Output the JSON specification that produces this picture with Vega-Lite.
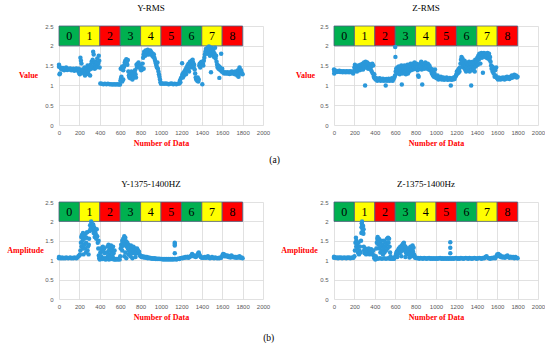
{
  "$schema": "https://vega.github.io/schema/vega-lite/v6.json",
  "background": "white",
  "autosize": {"type": "pad"},
  "padding": {"left": 6, "top": 4, "right": 0, "bottom": 0},
  "config": {
    "view": {"stroke": null},
    "axis": {"grid": true, "gridColor": "#D9D9D9", "gridWidth": 0.8, "domain": false, "ticks": false, "labelOverlap": false, "tickCount": 30, "labelFont": "Liberation Sans", "labelFontSize": 6, "labelColor": "#595959", "titleFont": "Liberation Serif", "titleFontSize": 8, "titleFontWeight": "bold", "titleColor": "#FF0000"},
    "axisX": {"labelPadding": 4, "titleY": 18, "titleBaseline": "middle", "labelFlush": false},
    "axisY": {"labelPadding": 6, "titleAngle": 0, "titleAlign": "center", "titleBaseline": "middle"},
    "title": {"font": "Liberation Serif", "fontSize": 9, "fontWeight": "normal", "color": "black", "anchor": "middle", "frame": "group", "dx": -10, "baseline": "middle", "offset": 10}
  },
  "datasets": {
    "bands": [
      {"n":"0","x0":0,"x1":200,"xm":100},{"n":"1","x0":200,"x1":400,"xm":300},{"n":"2","x0":400,"x1":600,"xm":500},
      {"n":"3","x0":600,"x1":800,"xm":700},{"n":"4","x0":800,"x1":1000,"xm":900},{"n":"5","x0":1000,"x1":1200,"xm":1100},
      {"n":"6","x0":1200,"x1":1400,"xm":1300},{"n":"7","x0":1400,"x1":1600,"xm":1500},{"n":"8","x0":1600,"x1":1800,"xm":1700}
    ],
    "yrms": [
      {"x":0,"y":1.52},{"x":0,"y":1.47},{"x":5,"y":1.28},{"x":10,"y":1.3},{"x":15,"y":1.45},{"x":20,"y":1.42},{"x":30,"y":1.4},{"x":40,"y":1.44},{"x":50,"y":1.38},{"x":60,"y":1.41},{"x":70,"y":1.45},{"x":80,"y":1.39},{"x":90,"y":1.42},{"x":100,"y":1.4},{"x":110,"y":1.43},{"x":120,"y":1.38},{"x":130,"y":1.4},{"x":140,"y":1.42},{"x":150,"y":1.37},{"x":160,"y":1.4},{"x":170,"y":1.43},{"x":180,"y":1.38},{"x":190,"y":1.35},{"x":195,"y":1.42},{"x":200,"y":1.3},{"x":205,"y":1.35},
      {"x":210,"y":1.7},{"x":215,"y":1.62},{"x":220,"y":1.55},{"x":205,"y":1.28},{"x":225,"y":1.33},{"x":230,"y":1.4},{"x":240,"y":1.36},{"x":245,"y":1.3},{"x":250,"y":1.45},{"x":255,"y":1.25},{"x":260,"y":1.38},{"x":270,"y":1.42},{"x":275,"y":1.32},{"x":280,"y":1.5},{"x":285,"y":1.35},{"x":290,"y":1.28},{"x":295,"y":1.45},{"x":300,"y":1.4},{"x":305,"y":1.25},{"x":310,"y":1.52},{"x":315,"y":1.42},{"x":320,"y":1.6},{"x":325,"y":1.48},{"x":330,"y":1.65},{"x":335,"y":1.85},{"x":340,"y":1.78},{"x":345,"y":1.55},{"x":350,"y":1.42},{"x":355,"y":1.6},{"x":360,"y":1.5},{"x":365,"y":1.45},{"x":370,"y":1.58},{"x":375,"y":1.68},{"x":380,"y":1.48},{"x":385,"y":1.55},{"x":390,"y":1.75},{"x":395,"y":1.62},{"x":398,"y":1.45},
      {"x":405,"y":1.05},{"x":420,"y":1.04},{"x":435,"y":1.03},{"x":450,"y":1.04},{"x":465,"y":1.03},{"x":480,"y":1.04},{"x":495,"y":1.03},{"x":510,"y":1.03},{"x":525,"y":1.02},{"x":540,"y":1.03},{"x":555,"y":1.02},{"x":570,"y":1.03},{"x":585,"y":1.02},{"x":598,"y":1.02},
      {"x":602,"y":1.12},{"x":608,"y":1.18},{"x":612,"y":1.22},{"x":620,"y":1.1},{"x":630,"y":1.15},{"x":605,"y":1.42},{"x":615,"y":1.45},{"x":620,"y":1.48},{"x":625,"y":1.4},{"x":630,"y":1.38},{"x":635,"y":1.46},{"x":640,"y":1.5},{"x":645,"y":1.58},{"x":650,"y":1.62},{"x":655,"y":1.55},{"x":660,"y":1.66},{"x":665,"y":1.6},{"x":670,"y":1.52},{"x":675,"y":1.64},{"x":680,"y":1.35},{"x":685,"y":1.25},{"x":690,"y":1.2},{"x":695,"y":1.3},{"x":700,"y":1.18},{"x":705,"y":1.28},{"x":710,"y":1.35},{"x":715,"y":1.22},{"x":720,"y":1.15},{"x":725,"y":1.3},{"x":730,"y":1.25},{"x":735,"y":1.2},{"x":740,"y":1.32},{"x":745,"y":1.38},{"x":750,"y":1.28},{"x":755,"y":1.2},{"x":760,"y":1.52},{"x":765,"y":1.45},{"x":770,"y":1.55},{"x":775,"y":1.48},{"x":780,"y":1.58},{"x":785,"y":1.52},{"x":790,"y":1.45},{"x":795,"y":1.5},
      {"x":800,"y":1.42},{"x":805,"y":1.38},{"x":810,"y":1.45},{"x":815,"y":1.4},{"x":820,"y":1.55},{"x":825,"y":1.7},{"x":830,"y":1.42},{"x":830,"y":1.78},{"x":835,"y":1.85},{"x":840,"y":1.8},{"x":845,"y":1.75},{"x":850,"y":1.88},{"x":855,"y":1.82},{"x":860,"y":1.78},{"x":865,"y":1.85},{"x":870,"y":1.9},{"x":875,"y":1.83},{"x":880,"y":1.78},{"x":885,"y":1.86},{"x":890,"y":1.8},{"x":895,"y":1.88},{"x":900,"y":1.85},{"x":905,"y":1.78},{"x":910,"y":1.82},{"x":915,"y":1.75},{"x":920,"y":1.8},{"x":925,"y":1.72},{"x":930,"y":1.78},{"x":935,"y":1.7},{"x":940,"y":1.65},{"x":945,"y":1.6},{"x":950,"y":1.55},{"x":955,"y":1.5},{"x":960,"y":1.45},{"x":965,"y":1.58},{"x":970,"y":1.42},{"x":975,"y":1.35},{"x":980,"y":1.28},{"x":985,"y":1.22},{"x":990,"y":1.15},{"x":995,"y":1.08},
      {"x":1000,"y":1.04},{"x":1015,"y":1.05},{"x":1030,"y":1.04},{"x":1045,"y":1.05},{"x":1060,"y":1.04},{"x":1075,"y":1.03},{"x":1090,"y":1.04},{"x":1105,"y":1.05},{"x":1120,"y":1.03},{"x":1135,"y":1.04},{"x":1150,"y":1.03},{"x":1165,"y":1.04},{"x":1180,"y":1.05},{"x":1185,"y":1.12},{"x":1190,"y":1.08},{"x":1195,"y":1.18},{"x":1207,"y":1.56},
      {"x":1205,"y":1.22},{"x":1210,"y":1.28},{"x":1215,"y":1.2},{"x":1220,"y":1.32},{"x":1225,"y":1.25},{"x":1230,"y":1.35},{"x":1235,"y":1.3},{"x":1240,"y":1.4},{"x":1245,"y":1.28},{"x":1250,"y":1.45},{"x":1255,"y":1.38},{"x":1260,"y":1.5},{"x":1265,"y":1.42},{"x":1270,"y":1.55},{"x":1275,"y":1.35},{"x":1280,"y":1.48},{"x":1285,"y":1.6},{"x":1290,"y":1.45},{"x":1295,"y":1.55},{"x":1300,"y":1.62},{"x":1305,"y":1.5},{"x":1310,"y":1.65},{"x":1315,"y":1.58},{"x":1320,"y":1.45},{"x":1325,"y":1.52},{"x":1330,"y":1.4},{"x":1335,"y":1.3},{"x":1340,"y":1.2},{"x":1345,"y":1.15},{"x":1350,"y":1.18},{"x":1355,"y":1.12},{"x":1360,"y":1.2},{"x":1365,"y":1.1},{"x":1370,"y":1.15},{"x":1375,"y":1.5},{"x":1380,"y":1.55},{"x":1385,"y":1.45},{"x":1390,"y":1.58},{"x":1395,"y":1.52},{"x":1400,"y":1.6},{"x":1405,"y":1.03},{"x":1410,"y":1.55},{"x":1415,"y":1.5},{"x":1420,"y":1.62},
      {"x":1425,"y":1.7},{"x":1430,"y":1.78},{"x":1435,"y":1.85},{"x":1440,"y":1.92},{"x":1445,"y":1.82},{"x":1450,"y":1.88},{"x":1455,"y":1.95},{"x":1460,"y":1.8},{"x":1465,"y":1.9},{"x":1470,"y":1.98},{"x":1475,"y":1.85},{"x":1480,"y":1.75},{"x":1485,"y":1.9},{"x":1490,"y":1.33},{"x":1492,"y":1.82},{"x":1495,"y":1.95},{"x":1500,"y":1.88},{"x":1505,"y":1.78},{"x":1510,"y":1.92},{"x":1515,"y":1.85},{"x":1520,"y":1.72},{"x":1525,"y":1.8},{"x":1530,"y":1.95},{"x":1535,"y":1.68},{"x":1540,"y":1.75},{"x":1545,"y":1.6},{"x":1550,"y":1.52},{"x":1555,"y":1.45},{"x":1560,"y":1.5},{"x":1565,"y":1.42},{"x":1570,"y":1.48},{"x":1572,"y":1.19},{"x":1575,"y":1.4},{"x":1580,"y":1.45},{"x":1585,"y":1.38},{"x":1590,"y":1.8},{"x":1595,"y":1.35},{"x":1600,"y":1.42},
      {"x":1605,"y":1.35},{"x":1612,"y":1.32},{"x":1620,"y":1.3},{"x":1628,"y":1.33},{"x":1635,"y":1.31},{"x":1642,"y":1.3},{"x":1650,"y":1.33},{"x":1658,"y":1.3},{"x":1665,"y":1.32},{"x":1672,"y":1.29},{"x":1680,"y":1.33},{"x":1688,"y":1.3},{"x":1695,"y":1.35},{"x":1702,"y":1.31},{"x":1710,"y":1.3},{"x":1718,"y":1.34},{"x":1725,"y":1.28},{"x":1732,"y":1.35},{"x":1740,"y":1.3},{"x":1748,"y":1.25},{"x":1755,"y":1.38},{"x":1760,"y":1.22},{"x":1765,"y":1.32},{"x":1770,"y":1.45},{"x":1775,"y":1.35},{"x":1780,"y":1.3},{"x":1785,"y":1.38},{"x":1790,"y":1.32},{"x":1795,"y":1.3},{"x":1800,"y":1.28}
    ],
    "zrms": [
      {"x":0,"y":1.4},{"x":2,"y":1.3},{"x":5,"y":1.36},{"x":12,"y":1.35},{"x":20,"y":1.37},{"x":28,"y":1.34},{"x":36,"y":1.36},{"x":44,"y":1.35},{"x":52,"y":1.37},{"x":60,"y":1.34},{"x":68,"y":1.36},{"x":76,"y":1.35},{"x":84,"y":1.33},{"x":92,"y":1.36},{"x":100,"y":1.34},{"x":108,"y":1.35},{"x":116,"y":1.33},{"x":124,"y":1.36},{"x":132,"y":1.34},{"x":140,"y":1.35},{"x":148,"y":1.33},{"x":156,"y":1.36},{"x":164,"y":1.34},{"x":172,"y":1.35},{"x":180,"y":1.33},{"x":188,"y":1.3},{"x":195,"y":1.36},
      {"x":200,"y":1.45},{"x":205,"y":1.52},{"x":210,"y":1.38},{"x":215,"y":1.42},{"x":220,"y":1.48},{"x":225,"y":1.35},{"x":230,"y":1.45},{"x":235,"y":1.4},{"x":240,"y":1.5},{"x":245,"y":1.42},{"x":250,"y":1.38},{"x":255,"y":1.46},{"x":260,"y":1.52},{"x":265,"y":1.4},{"x":270,"y":1.48},{"x":275,"y":1.44},{"x":280,"y":1.55},{"x":285,"y":1.4},{"x":290,"y":1.5},{"x":295,"y":1.58},{"x":300,"y":1.45},{"x":305,"y":1.0},{"x":310,"y":1.6},{"x":315,"y":1.52},{"x":320,"y":1.45},{"x":325,"y":1.58},{"x":330,"y":1.5},{"x":335,"y":1.42},{"x":340,"y":1.55},{"x":345,"y":1.48},{"x":350,"y":1.45},{"x":355,"y":1.52},{"x":360,"y":1.4},{"x":365,"y":1.48},{"x":370,"y":1.35},{"x":375,"y":1.55},{"x":380,"y":1.3},{"x":385,"y":1.5},{"x":390,"y":1.22},{"x":395,"y":1.28},{"x":398,"y":1.18},
      {"x":400,"y":1.2},{"x":408,"y":1.15},{"x":416,"y":1.18},{"x":424,"y":1.12},{"x":432,"y":1.16},{"x":440,"y":1.14},{"x":448,"y":1.18},{"x":456,"y":1.12},{"x":464,"y":1.15},{"x":472,"y":1.13},{"x":480,"y":1.17},{"x":488,"y":1.12},{"x":496,"y":1.15},{"x":504,"y":1.13},{"x":507,"y":1.0},{"x":512,"y":1.16},{"x":520,"y":1.12},{"x":528,"y":1.14},{"x":536,"y":1.17},{"x":544,"y":1.12},{"x":552,"y":1.15},{"x":560,"y":1.13},{"x":568,"y":1.18},{"x":576,"y":1.12},{"x":584,"y":1.16},{"x":592,"y":1.2},{"x":598,"y":1.25},
      {"x":600,"y":1.97},{"x":602,"y":1.72},
      {"x":605,"y":1.35},{"x":610,"y":1.42},{"x":615,"y":1.3},{"x":620,"y":1.45},{"x":625,"y":1.38},{"x":630,"y":1.32},{"x":635,"y":1.48},{"x":640,"y":1.4},{"x":645,"y":1.28},{"x":650,"y":1.45},{"x":655,"y":1.35},{"x":660,"y":1.5},{"x":665,"y":1.02},{"x":670,"y":1.4},{"x":675,"y":1.3},{"x":680,"y":1.45},{"x":685,"y":1.38},{"x":690,"y":1.5},{"x":695,"y":1.35},{"x":700,"y":1.42},{"x":705,"y":1.28},{"x":710,"y":1.48},{"x":715,"y":1.38},{"x":720,"y":1.52},{"x":725,"y":1.3},{"x":730,"y":1.45},{"x":735,"y":1.35},{"x":740,"y":1.5},{"x":745,"y":1.4},{"x":750,"y":1.55},{"x":755,"y":1.38},{"x":760,"y":1.48},{"x":765,"y":1.42},{"x":770,"y":1.55},{"x":775,"y":1.4},{"x":780,"y":1.5},{"x":785,"y":1.45},{"x":790,"y":1.58},{"x":795,"y":1.42},
      {"x":800,"y":1.5},{"x":805,"y":1.42},{"x":810,"y":1.55},{"x":815,"y":1.45},{"x":820,"y":1.38},{"x":825,"y":1.25},{"x":830,"y":1.22},{"x":835,"y":1.5},{"x":840,"y":1.42},{"x":845,"y":1.55},{"x":850,"y":1.48},{"x":855,"y":1.6},{"x":860,"y":1.4},{"x":865,"y":1.02},{"x":870,"y":1.5},{"x":875,"y":1.45},{"x":880,"y":1.55},{"x":885,"y":1.42},{"x":890,"y":1.52},{"x":895,"y":1.58},{"x":900,"y":1.45},{"x":905,"y":1.55},{"x":910,"y":1.5},{"x":915,"y":1.42},{"x":920,"y":1.55},{"x":925,"y":1.48},{"x":930,"y":1.4},{"x":935,"y":1.5},{"x":940,"y":1.45},{"x":945,"y":1.38},{"x":950,"y":1.42},{"x":955,"y":1.35},{"x":960,"y":1.3},{"x":965,"y":1.4},{"x":970,"y":1.25},{"x":975,"y":1.35},{"x":980,"y":1.22},{"x":985,"y":1.3},{"x":990,"y":1.4},{"x":995,"y":1.2},
      {"x":1000,"y":1.22},{"x":1008,"y":1.18},{"x":1016,"y":1.25},{"x":1024,"y":1.15},{"x":1032,"y":1.2},{"x":1040,"y":1.17},{"x":1048,"y":1.22},{"x":1056,"y":1.15},{"x":1064,"y":1.18},{"x":1072,"y":1.2},{"x":1080,"y":1.14},{"x":1088,"y":1.18},{"x":1096,"y":1.16},{"x":1104,"y":1.2},{"x":1112,"y":1.14},{"x":1120,"y":1.17},{"x":1128,"y":1.15},{"x":1136,"y":1.19},{"x":1145,"y":1.0},{"x":1150,"y":1.14},{"x":1158,"y":1.18},{"x":1166,"y":1.15},{"x":1174,"y":1.2},{"x":1182,"y":1.16},{"x":1190,"y":1.22},{"x":1198,"y":1.25},
      {"x":1200,"y":1.28},{"x":1205,"y":1.35},{"x":1210,"y":1.3},{"x":1215,"y":1.38},{"x":1220,"y":1.32},{"x":1225,"y":1.42},{"x":1230,"y":1.35},{"x":1235,"y":1.45},{"x":1240,"y":1.55},{"x":1245,"y":1.65},{"x":1250,"y":1.72},{"x":1255,"y":1.6},{"x":1260,"y":1.68},{"x":1265,"y":1.5},{"x":1270,"y":1.45},{"x":1275,"y":1.55},{"x":1280,"y":1.62},{"x":1285,"y":1.4},{"x":1290,"y":1.5},{"x":1295,"y":1.35},{"x":1300,"y":1.58},{"x":1305,"y":1.45},{"x":1310,"y":1.38},{"x":1315,"y":1.52},{"x":1320,"y":1.42},{"x":1325,"y":1.6},{"x":1330,"y":1.35},{"x":1335,"y":1.48},{"x":1340,"y":1.55},{"x":1345,"y":1.0},{"x":1350,"y":1.45},{"x":1355,"y":1.38},{"x":1360,"y":1.6},{"x":1365,"y":1.5},{"x":1370,"y":1.42},{"x":1375,"y":1.55},{"x":1380,"y":1.35},{"x":1385,"y":1.65},{"x":1390,"y":1.48},{"x":1395,"y":1.58},
      {"x":1400,"y":1.6},{"x":1405,"y":1.7},{"x":1410,"y":1.52},{"x":1415,"y":1.75},{"x":1420,"y":1.65},{"x":1425,"y":1.8},{"x":1430,"y":1.72},{"x":1435,"y":1.55},{"x":1440,"y":1.78},{"x":1445,"y":1.82},{"x":1450,"y":1.7},{"x":1455,"y":1.8},{"x":1460,"y":1.32},{"x":1465,"y":1.75},{"x":1470,"y":1.82},{"x":1475,"y":1.78},{"x":1480,"y":1.72},{"x":1485,"y":1.8},{"x":1490,"y":1.75},{"x":1495,"y":1.7},{"x":1500,"y":1.78},{"x":1505,"y":1.82},{"x":1510,"y":1.68},{"x":1515,"y":1.75},{"x":1520,"y":1.8},{"x":1525,"y":1.65},{"x":1530,"y":1.72},{"x":1535,"y":1.6},{"x":1540,"y":1.5},{"x":1545,"y":1.42},{"x":1550,"y":1.48},{"x":1555,"y":1.35},{"x":1560,"y":1.45},{"x":1565,"y":1.3},{"x":1570,"y":1.4},{"x":1575,"y":1.22},{"x":1580,"y":1.38},{"x":1585,"y":1.25},{"x":1590,"y":1.45},{"x":1595,"y":1.2},
      {"x":1600,"y":1.18},{"x":1608,"y":1.15},{"x":1616,"y":1.2},{"x":1624,"y":1.17},{"x":1632,"y":1.15},{"x":1640,"y":1.19},{"x":1648,"y":1.16},{"x":1656,"y":1.2},{"x":1664,"y":1.18},{"x":1672,"y":1.15},{"x":1680,"y":1.2},{"x":1688,"y":1.17},{"x":1696,"y":1.22},{"x":1704,"y":1.18},{"x":1712,"y":1.2},{"x":1720,"y":1.16},{"x":1728,"y":1.22},{"x":1736,"y":1.19},{"x":1744,"y":1.25},{"x":1752,"y":1.2},{"x":1760,"y":1.24},{"x":1768,"y":1.27},{"x":1776,"y":1.22},{"x":1784,"y":1.25},{"x":1792,"y":1.2},{"x":1800,"y":1.22}
    ],
    "y1375": [
      {"x":0,"y":1.05},{"x":0,"y":1.08},{"x":10,"y":1.06},{"x":20,"y":1.05},{"x":30,"y":1.07},{"x":40,"y":1.05},{"x":50,"y":1.06},{"x":60,"y":1.05},{"x":70,"y":1.07},{"x":80,"y":1.06},{"x":90,"y":1.05},{"x":100,"y":1.06},{"x":110,"y":1.07},{"x":120,"y":1.05},{"x":130,"y":1.06},{"x":140,"y":1.05},{"x":150,"y":1.07},{"x":160,"y":1.06},{"x":170,"y":1.05},{"x":180,"y":1.07},{"x":190,"y":1.1},{"x":200,"y":1.12},
      {"x":205,"y":1.15},{"x":210,"y":1.25},{"x":215,"y":1.45},{"x":218,"y":1.6},{"x":220,"y":1.35},{"x":225,"y":1.65},{"x":230,"y":1.5},{"x":235,"y":1.7},{"x":235,"y":1.3},{"x":240,"y":1.4},{"x":240,"y":1.15},{"x":245,"y":1.55},{"x":250,"y":1.62},{"x":250,"y":1.4},{"x":255,"y":1.3},{"x":260,"y":1.68},{"x":265,"y":1.45},{"x":265,"y":1.2},{"x":270,"y":1.58},{"x":275,"y":1.72},{"x":280,"y":1.25},{"x":285,"y":1.35},{"x":290,"y":1.15},{"x":292,"y":1.4},{"x":295,"y":1.55},{"x":300,"y":1.75},{"x":305,"y":1.9},{"x":310,"y":1.82},{"x":315,"y":2.0},{"x":320,"y":1.95},{"x":325,"y":1.88},{"x":330,"y":1.78},{"x":335,"y":1.92},{"x":340,"y":1.7},{"x":345,"y":1.85},{"x":350,"y":1.6},{"x":355,"y":1.75},{"x":360,"y":1.68},{"x":365,"y":1.55},{"x":370,"y":1.8},{"x":375,"y":1.62},{"x":380,"y":1.45},{"x":385,"y":1.3},{"x":388,"y":1.5},{"x":390,"y":1.12},{"x":395,"y":1.05},{"x":398,"y":1.08},
      {"x":400,"y":1.02},{"x":405,"y":1.2},{"x":410,"y":1.3},{"x":415,"y":1.1},{"x":420,"y":1.25},{"x":425,"y":1.03},{"x":430,"y":1.35},{"x":435,"y":1.22},{"x":440,"y":1.05},{"x":445,"y":1.3},{"x":450,"y":1.18},{"x":455,"y":1.02},{"x":460,"y":1.05},{"x":465,"y":1.03},{"x":470,"y":1.2},{"x":470,"y":1.03},{"x":475,"y":1.35},{"x":480,"y":1.1},{"x":485,"y":1.4},{"x":490,"y":1.25},{"x":490,"y":1.02},{"x":495,"y":1.15},{"x":500,"y":1.32},{"x":505,"y":1.05},{"x":510,"y":1.38},{"x":510,"y":1.03},{"x":515,"y":1.2},{"x":520,"y":1.28},{"x":525,"y":1.1},{"x":530,"y":1.35},{"x":530,"y":1.03},{"x":535,"y":1.18},{"x":540,"y":1.02},{"x":545,"y":1.25},{"x":550,"y":1.03},{"x":555,"y":1.02},{"x":565,"y":1.03},{"x":575,"y":1.02},{"x":585,"y":1.03},{"x":595,"y":1.02},
      {"x":600,"y":1.1},{"x":605,"y":1.3},{"x":610,"y":1.4},{"x":615,"y":1.35},{"x":620,"y":1.5},{"x":620,"y":1.25},{"x":625,"y":1.45},{"x":630,"y":1.55},{"x":635,"y":1.38},{"x":640,"y":1.62},{"x":640,"y":1.1},{"x":645,"y":1.5},{"x":650,"y":1.58},{"x":650,"y":1.2},{"x":655,"y":1.42},{"x":660,"y":1.48},{"x":660,"y":1.05},{"x":665,"y":1.35},{"x":670,"y":1.45},{"x":675,"y":1.3},{"x":680,"y":1.4},{"x":680,"y":1.15},{"x":685,"y":1.25},{"x":690,"y":1.35},{"x":695,"y":1.2},{"x":700,"y":1.3},{"x":700,"y":1.1},{"x":705,"y":1.38},{"x":710,"y":1.22},{"x":715,"y":1.3},{"x":720,"y":1.18},{"x":720,"y":1.05},{"x":725,"y":1.28},{"x":730,"y":1.35},{"x":735,"y":1.2},{"x":740,"y":1.25},{"x":745,"y":1.3},{"x":750,"y":1.18},{"x":750,"y":1.08},{"x":755,"y":1.28},{"x":760,"y":1.22},{"x":765,"y":1.3},{"x":770,"y":1.2},{"x":775,"y":1.25},{"x":780,"y":1.18},{"x":785,"y":1.22},{"x":790,"y":1.15},{"x":795,"y":1.12},
      {"x":800,"y":1.1},{"x":810,"y":1.08},{"x":820,"y":1.1},{"x":830,"y":1.07},{"x":840,"y":1.09},{"x":850,"y":1.06},{"x":860,"y":1.08},{"x":870,"y":1.05},{"x":880,"y":1.07},{"x":890,"y":1.05},{"x":900,"y":1.06},{"x":910,"y":1.04},{"x":920,"y":1.05},{"x":930,"y":1.04},{"x":940,"y":1.05},{"x":950,"y":1.03},{"x":960,"y":1.04},{"x":970,"y":1.03},{"x":980,"y":1.04},{"x":990,"y":1.03},{"x":1000,"y":1.03},
      {"x":1010,"y":1.03},{"x":1020,"y":1.02},{"x":1030,"y":1.03},{"x":1040,"y":1.02},{"x":1050,"y":1.03},{"x":1060,"y":1.02},{"x":1070,"y":1.03},{"x":1080,"y":1.02},{"x":1090,"y":1.03},{"x":1100,"y":1.02},{"x":1110,"y":1.03},{"x":1120,"y":1.02},{"x":1130,"y":1.03},{"x":1135,"y":1.45},{"x":1135,"y":1.42},{"x":1135,"y":1.38},{"x":1135,"y":1.18},{"x":1140,"y":1.03},{"x":1150,"y":1.02},{"x":1160,"y":1.03},{"x":1170,"y":1.04},{"x":1180,"y":1.03},{"x":1190,"y":1.05},{"x":1200,"y":1.06},
      {"x":1210,"y":1.05},{"x":1220,"y":1.07},{"x":1230,"y":1.06},{"x":1240,"y":1.08},{"x":1250,"y":1.07},{"x":1260,"y":1.09},{"x":1270,"y":1.06},{"x":1280,"y":1.08},{"x":1290,"y":1.1},{"x":1300,"y":1.13},{"x":1305,"y":1.16},{"x":1310,"y":1.12},{"x":1320,"y":1.1},{"x":1330,"y":1.12},{"x":1340,"y":1.08},{"x":1350,"y":1.1},{"x":1360,"y":1.14},{"x":1365,"y":1.18},{"x":1370,"y":1.2},{"x":1375,"y":1.15},{"x":1380,"y":1.12},{"x":1390,"y":1.08},{"x":1400,"y":1.06},
      {"x":1410,"y":1.07},{"x":1420,"y":1.06},{"x":1430,"y":1.08},{"x":1440,"y":1.06},{"x":1450,"y":1.07},{"x":1460,"y":1.1},{"x":1470,"y":1.07},{"x":1480,"y":1.05},{"x":1490,"y":1.06},{"x":1500,"y":1.08},{"x":1510,"y":1.06},{"x":1520,"y":1.05},{"x":1530,"y":1.07},{"x":1540,"y":1.06},{"x":1550,"y":1.05},{"x":1560,"y":1.06},{"x":1570,"y":1.05},{"x":1580,"y":1.07},{"x":1590,"y":1.06},
      {"x":1600,"y":1.1},{"x":1605,"y":1.14},{"x":1610,"y":1.16},{"x":1615,"y":1.12},{"x":1620,"y":1.15},{"x":1625,"y":1.1},{"x":1630,"y":1.13},{"x":1640,"y":1.1},{"x":1650,"y":1.12},{"x":1660,"y":1.08},{"x":1670,"y":1.1},{"x":1680,"y":1.07},{"x":1690,"y":1.12},{"x":1700,"y":1.08},{"x":1710,"y":1.09},{"x":1720,"y":1.07},{"x":1730,"y":1.08},{"x":1740,"y":1.06},{"x":1750,"y":1.08},{"x":1760,"y":1.07},{"x":1770,"y":1.1},{"x":1780,"y":1.06},{"x":1790,"y":1.07},{"x":1800,"y":1.05}
    ],
    "z1375": [
      {"x":0,"y":1.06},{"x":0,"y":1.09},{"x":10,"y":1.07},{"x":20,"y":1.06},{"x":30,"y":1.07},{"x":40,"y":1.05},{"x":50,"y":1.07},{"x":60,"y":1.06},{"x":70,"y":1.07},{"x":80,"y":1.05},{"x":90,"y":1.06},{"x":100,"y":1.07},{"x":110,"y":1.06},{"x":120,"y":1.05},{"x":130,"y":1.07},{"x":140,"y":1.06},{"x":150,"y":1.07},{"x":160,"y":1.05},{"x":170,"y":1.06},{"x":180,"y":1.07},{"x":190,"y":1.06},
      {"x":200,"y":1.1},{"x":205,"y":1.25},{"x":210,"y":1.45},{"x":215,"y":1.58},{"x":218,"y":1.35},{"x":220,"y":1.5},{"x":225,"y":1.4},{"x":230,"y":1.3},{"x":235,"y":1.2},{"x":240,"y":1.45},{"x":245,"y":1.15},{"x":250,"y":1.25},{"x":255,"y":1.35},{"x":260,"y":1.2},{"x":265,"y":1.5},{"x":268,"y":1.7},{"x":270,"y":1.85},{"x":272,"y":1.95},{"x":275,"y":2.0},{"x":278,"y":1.9},{"x":280,"y":1.78},{"x":283,"y":1.72},{"x":285,"y":1.88},{"x":288,"y":1.68},{"x":290,"y":1.8},{"x":292,"y":1.35},{"x":295,"y":1.25},{"x":300,"y":1.18},{"x":305,"y":1.3},{"x":310,"y":1.22},{"x":315,"y":1.15},{"x":320,"y":1.28},{"x":325,"y":1.2},{"x":330,"y":1.25},{"x":335,"y":1.18},{"x":340,"y":1.3},{"x":345,"y":1.22},{"x":350,"y":1.15},{"x":355,"y":1.25},{"x":360,"y":1.2},{"x":365,"y":1.28},{"x":370,"y":1.18},{"x":375,"y":1.22},{"x":380,"y":1.15},{"x":385,"y":1.25},{"x":390,"y":1.12},{"x":395,"y":1.05},{"x":400,"y":1.08},
      {"x":405,"y":1.02},{"x":410,"y":1.1},{"x":410,"y":1.05},{"x":415,"y":1.3},{"x":420,"y":1.45},{"x":425,"y":1.55},{"x":428,"y":1.6},{"x":430,"y":1.5},{"x":430,"y":1.04},{"x":435,"y":1.4},{"x":440,"y":1.55},{"x":445,"y":1.3},{"x":450,"y":1.45},{"x":450,"y":1.05},{"x":455,"y":1.2},{"x":460,"y":1.35},{"x":465,"y":1.5},{"x":470,"y":1.25},{"x":470,"y":1.04},{"x":475,"y":1.4},{"x":480,"y":1.15},{"x":485,"y":1.3},{"x":490,"y":1.5},{"x":490,"y":1.05},{"x":495,"y":1.2},{"x":500,"y":1.35},{"x":505,"y":1.45},{"x":510,"y":1.25},{"x":510,"y":1.04},{"x":515,"y":1.4},{"x":520,"y":1.55},{"x":525,"y":1.3},{"x":530,"y":1.58},{"x":530,"y":1.05},{"x":535,"y":1.45},{"x":540,"y":1.55},{"x":545,"y":1.35},{"x":550,"y":1.2},{"x":550,"y":1.04},{"x":555,"y":1.1},{"x":560,"y":1.05},{"x":570,"y":1.04},{"x":580,"y":1.05},{"x":590,"y":1.04},
      {"x":600,"y":1.08},{"x":605,"y":1.12},{"x":610,"y":1.18},{"x":615,"y":1.22},{"x":620,"y":1.15},{"x":620,"y":1.08},{"x":625,"y":1.25},{"x":630,"y":1.2},{"x":635,"y":1.3},{"x":640,"y":1.18},{"x":645,"y":1.28},{"x":650,"y":1.35},{"x":655,"y":1.22},{"x":660,"y":1.3},{"x":660,"y":1.1},{"x":665,"y":1.38},{"x":670,"y":1.25},{"x":675,"y":1.42},{"x":680,"y":1.32},{"x":685,"y":1.45},{"x":690,"y":1.38},{"x":695,"y":1.28},{"x":700,"y":1.35},{"x":700,"y":1.08},{"x":705,"y":1.2},{"x":710,"y":1.3},{"x":715,"y":1.15},{"x":720,"y":1.25},{"x":725,"y":1.18},{"x":730,"y":1.3},{"x":735,"y":1.22},{"x":740,"y":1.15},{"x":740,"y":1.07},{"x":745,"y":1.28},{"x":750,"y":1.35},{"x":755,"y":1.2},{"x":760,"y":1.3},{"x":760,"y":1.1},{"x":765,"y":1.25},{"x":770,"y":1.38},{"x":775,"y":1.22},{"x":780,"y":1.32},{"x":785,"y":1.15},{"x":790,"y":1.1},{"x":795,"y":1.06},
      {"x":800,"y":1.07},{"x":812,"y":1.05},{"x":824,"y":1.06},{"x":836,"y":1.04},{"x":848,"y":1.06},{"x":860,"y":1.05},{"x":872,"y":1.04},{"x":884,"y":1.06},{"x":896,"y":1.05},{"x":908,"y":1.04},{"x":920,"y":1.05},{"x":932,"y":1.06},{"x":944,"y":1.04},{"x":956,"y":1.05},{"x":968,"y":1.04},{"x":980,"y":1.05},{"x":992,"y":1.04},{"x":1004,"y":1.05},{"x":1016,"y":1.04},{"x":1028,"y":1.05},{"x":1040,"y":1.06},{"x":1052,"y":1.04},{"x":1064,"y":1.05},{"x":1076,"y":1.04},{"x":1088,"y":1.05},{"x":1100,"y":1.04},{"x":1112,"y":1.05},{"x":1124,"y":1.04},{"x":1140,"y":1.46},{"x":1140,"y":1.32},{"x":1140,"y":1.18},{"x":1136,"y":1.05},{"x":1148,"y":1.04},{"x":1160,"y":1.05},{"x":1172,"y":1.04},{"x":1184,"y":1.05},{"x":1196,"y":1.06},
      {"x":1208,"y":1.04},{"x":1220,"y":1.05},{"x":1232,"y":1.04},{"x":1244,"y":1.06},{"x":1256,"y":1.05},{"x":1268,"y":1.04},{"x":1280,"y":1.05},{"x":1292,"y":1.06},{"x":1304,"y":1.05},{"x":1316,"y":1.04},{"x":1328,"y":1.06},{"x":1340,"y":1.05},{"x":1352,"y":1.04},{"x":1364,"y":1.05},{"x":1376,"y":1.06},{"x":1388,"y":1.05},{"x":1400,"y":1.04},{"x":1412,"y":1.05},{"x":1424,"y":1.06},{"x":1436,"y":1.05},{"x":1448,"y":1.04},{"x":1460,"y":1.06},{"x":1472,"y":1.05},{"x":1484,"y":1.08},{"x":1496,"y":1.1},{"x":1508,"y":1.06},{"x":1520,"y":1.05},{"x":1532,"y":1.04},{"x":1544,"y":1.06},{"x":1556,"y":1.05},{"x":1568,"y":1.07},{"x":1580,"y":1.05},{"x":1592,"y":1.1},
      {"x":1600,"y":1.15},{"x":1606,"y":1.12},{"x":1612,"y":1.16},{"x":1620,"y":1.1},{"x":1628,"y":1.13},{"x":1636,"y":1.08},{"x":1644,"y":1.1},{"x":1652,"y":1.07},{"x":1664,"y":1.09},{"x":1676,"y":1.06},{"x":1688,"y":1.1},{"x":1700,"y":1.12},{"x":1708,"y":1.08},{"x":1720,"y":1.06},{"x":1732,"y":1.09},{"x":1744,"y":1.06},{"x":1756,"y":1.08},{"x":1768,"y":1.05},{"x":1780,"y":1.08},{"x":1792,"y":1.06},{"x":1800,"y":1.05}
    ]
  },
  "bounds": "flush",
  "spacing": 176,
  "vconcat": [
    {
      "bounds": "flush",
      "spacing": 71,
      "title": {"text": "(a)", "orient": "bottom", "anchor": "middle", "frame": "bounds", "fontSize": 9.5, "baseline": "top", "offset": 8, "dx": -7},
      "hconcat": [
        {
          "width": 204, "height": 99,
          "title": {"text": "Y-RMS"},
          "layer": [
            {"data": {"name": "bands"}, "mark": {"type": "rect", "stroke": "#4F5D7E", "strokeWidth": 0.8},
             "encoding": {"x": {"field": "x0", "type": "quantitative", "axis": {"title": "Number of Data", "tickCount": 30}}, "x2": {"field": "x1"}, "y": {"datum": 2, "type": "quantitative", "axis": {"title": "Value", "tickCount": 30}}, "y2": {"datum": 2.5},
               "color": {"field": "n", "type": "nominal", "legend": null, "scale": {"domain": ["0","1","2","3","4","5","6","7","8"], "range": ["#00B050","#FFFF00","#FF0000","#00B050","#FFFF00","#FF0000","#00B050","#FFFF00","#FF0000"]}}}},
            {"data": {"name": "bands"}, "mark": {"type": "text", "font": "Liberation Serif", "fontSize": 12, "color": "black", "baseline": "middle"},
             "encoding": {"x": {"field": "xm", "type": "quantitative", "axis": {"title": "Number of Data", "tickCount": 30}}, "y": {"datum": 2.25, "type": "quantitative", "axis": {"title": "Value", "tickCount": 30}}, "text": {"field": "n"}}},
            {"data": {"name": "yrms"}, "mark": {"type": "circle", "size": 20, "color": "#2B98DA", "opacity": 1},
             "encoding": {"x": {"field": "x", "type": "quantitative", "scale": {"domain": [0, 2000], "nice": false}, "axis": {"title": "Number of Data", "tickCount": 30, "values": [0,200,400,600,800,1000,1200,1400,1600,1800,2000], "format": "d"}},
               "y": {"field": "y", "type": "quantitative", "scale": {"domain": [0, 2.5], "nice": false}, "axis": {"title": "Value", "tickCount": 30, "titleX": -31, "titleY": 49.5, "values": [0,0.5,1,1.5,2,2.5], "format": "~g"}}}}
          ]
        },
        {
          "width": 204, "height": 99,
          "title": {"text": "Z-RMS"},
          "layer": [
            {"data": {"name": "bands"}, "mark": {"type": "rect", "stroke": "#4F5D7E", "strokeWidth": 0.8},
             "encoding": {"x": {"field": "x0", "type": "quantitative", "axis": {"title": "Number of Data", "tickCount": 30}}, "x2": {"field": "x1"}, "y": {"datum": 2, "type": "quantitative", "axis": {"title": "Value", "tickCount": 30}}, "y2": {"datum": 2.5},
               "color": {"field": "n", "type": "nominal", "legend": null, "scale": {"domain": ["0","1","2","3","4","5","6","7","8"], "range": ["#00B050","#FFFF00","#FF0000","#00B050","#FFFF00","#FF0000","#00B050","#FFFF00","#FF0000"]}}}},
            {"data": {"name": "bands"}, "mark": {"type": "text", "font": "Liberation Serif", "fontSize": 12, "color": "black", "baseline": "middle"},
             "encoding": {"x": {"field": "xm", "type": "quantitative", "axis": {"title": "Number of Data", "tickCount": 30}}, "y": {"datum": 2.25, "type": "quantitative", "axis": {"title": "Value", "tickCount": 30}}, "text": {"field": "n"}}},
            {"data": {"name": "zrms"}, "mark": {"type": "circle", "size": 20, "color": "#2B98DA", "opacity": 1},
             "encoding": {"x": {"field": "x", "type": "quantitative", "scale": {"domain": [0, 2000], "nice": false}, "axis": {"title": "Number of Data", "tickCount": 30, "values": [0,200,400,600,800,1000,1200,1400,1600,1800,2000], "format": "d"}},
               "y": {"field": "y", "type": "quantitative", "scale": {"domain": [0, 2.5], "nice": false}, "axis": {"title": "Value", "tickCount": 30, "titleX": -29, "titleY": 49.5, "values": [0,0.5,1,1.5,2,2.5], "format": "~g"}}}}
          ]
        }
      ]
    },
    {
      "bounds": "flush",
      "spacing": 71,
      "title": {"text": "(b)", "orient": "bottom", "anchor": "middle", "frame": "bounds", "fontSize": 9.5, "baseline": "top", "offset": 12, "dx": -7},
      "hconcat": [
        {
          "width": 204, "height": 97,
          "title": {"text": "Y-1375-1400HZ"},
          "layer": [
            {"data": {"name": "bands"}, "mark": {"type": "rect", "stroke": "#4F5D7E", "strokeWidth": 0.8},
             "encoding": {"x": {"field": "x0", "type": "quantitative", "axis": {"title": "Number of Data", "tickCount": 30}}, "x2": {"field": "x1"}, "y": {"datum": 2, "type": "quantitative", "axis": {"title": "Amplitude", "tickCount": 30}}, "y2": {"datum": 2.5},
               "color": {"field": "n", "type": "nominal", "legend": null, "scale": {"domain": ["0","1","2","3","4","5","6","7","8"], "range": ["#00B050","#FFFF00","#FF0000","#00B050","#FFFF00","#FF0000","#00B050","#FFFF00","#FF0000"]}}}},
            {"data": {"name": "bands"}, "mark": {"type": "text", "font": "Liberation Serif", "fontSize": 12, "color": "black", "baseline": "middle"},
             "encoding": {"x": {"field": "xm", "type": "quantitative", "axis": {"title": "Number of Data", "tickCount": 30}}, "y": {"datum": 2.25, "type": "quantitative", "axis": {"title": "Amplitude", "tickCount": 30}}, "text": {"field": "n"}}},
            {"data": {"name": "y1375"}, "mark": {"type": "circle", "size": 20, "color": "#2B98DA", "opacity": 1},
             "encoding": {"x": {"field": "x", "type": "quantitative", "scale": {"domain": [0, 2000], "nice": false}, "axis": {"title": "Number of Data", "tickCount": 30, "values": [0,200,400,600,800,1000,1200,1400,1600,1800,2000], "format": "d"}},
               "y": {"field": "y", "type": "quantitative", "scale": {"domain": [0, 2.5], "nice": false}, "axis": {"title": "Amplitude", "tickCount": 30, "titleX": -34, "titleY": 48.5, "values": [0,0.5,1,1.5,2,2.5], "format": "~g"}}}}
          ]
        },
        {
          "width": 204, "height": 97,
          "title": {"text": "Z-1375-1400Hz"},
          "layer": [
            {"data": {"name": "bands"}, "mark": {"type": "rect", "stroke": "#4F5D7E", "strokeWidth": 0.8},
             "encoding": {"x": {"field": "x0", "type": "quantitative", "axis": {"title": "Number of Data", "tickCount": 30}}, "x2": {"field": "x1"}, "y": {"datum": 2, "type": "quantitative", "axis": {"title": "Amplitude", "tickCount": 30}}, "y2": {"datum": 2.5},
               "color": {"field": "n", "type": "nominal", "legend": null, "scale": {"domain": ["0","1","2","3","4","5","6","7","8"], "range": ["#00B050","#FFFF00","#FF0000","#00B050","#FFFF00","#FF0000","#00B050","#FFFF00","#FF0000"]}}}},
            {"data": {"name": "bands"}, "mark": {"type": "text", "font": "Liberation Serif", "fontSize": 12, "color": "black", "baseline": "middle"},
             "encoding": {"x": {"field": "xm", "type": "quantitative", "axis": {"title": "Number of Data", "tickCount": 30}}, "y": {"datum": 2.25, "type": "quantitative", "axis": {"title": "Amplitude", "tickCount": 30}}, "text": {"field": "n"}}},
            {"data": {"name": "z1375"}, "mark": {"type": "circle", "size": 20, "color": "#2B98DA", "opacity": 1},
             "encoding": {"x": {"field": "x", "type": "quantitative", "scale": {"domain": [0, 2000], "nice": false}, "axis": {"title": "Number of Data", "tickCount": 30, "values": [0,200,400,600,800,1000,1200,1400,1600,1800,2000], "format": "d"}},
               "y": {"field": "y", "type": "quantitative", "scale": {"domain": [0, 2.5], "nice": false}, "axis": {"title": "Amplitude", "tickCount": 30, "titleX": -35, "titleY": 48.5, "values": [0,0.5,1,1.5,2,2.5], "format": "~g"}}}}
          ]
        }
      ]
    }
  ]
}
